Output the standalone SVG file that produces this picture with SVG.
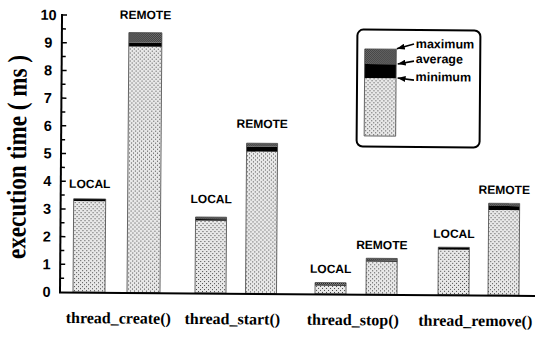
<svg xmlns="http://www.w3.org/2000/svg" width="537" height="338" viewBox="0 0 537 338">
  <style>
    .tick { stroke: #000; stroke-width: 1.5; }
    .num { font-family: "Liberation Sans", Arial, sans-serif; font-weight: bold; font-size: 14.5px; text-anchor: middle; fill: #000; }
    .tag { font-family: "Liberation Sans", Arial, sans-serif; font-weight: bold; font-size: 12px; text-anchor: middle; fill: #000; }
    .fn { font-family: "Liberation Serif", "Times New Roman", serif; font-weight: bold; font-size: 16px; text-anchor: middle; fill: #000; }
    .key { font-family: "Liberation Sans", Arial, sans-serif; font-weight: bold; font-size: 12.5px; fill: #000; }
    .min { fill: url(#stipple); }
    .avg { fill: #000; }
    .max { fill: url(#checker); }
    .edge { fill: none; stroke: #444; stroke-width: 0.8; }
    .ptr { stroke: #000; stroke-width: 1.6; fill: none; marker-end: url(#head); }
  </style>
  <defs>
    <!-- light stipple: range 0 .. minimum -->
    <pattern id="stipple" width="4" height="4" patternUnits="userSpaceOnUse">
      <rect width="4" height="4" fill="#e8e8e8"/>
      <rect x="0" y="0" width="1" height="1" fill="#444"/>
      <rect x="2" y="2" width="1" height="1" fill="#444"/>
    </pattern>
    <!-- dark checker: range average .. maximum -->
    <pattern id="checker" width="2" height="2" patternUnits="userSpaceOnUse">
      <rect width="2" height="2" fill="#9a9a9a"/>
      <rect x="0" y="0" width="1" height="1" fill="#111"/>
      <rect x="1" y="1" width="1" height="1" fill="#111"/>
    </pattern>
    <marker id="head" viewBox="0 0 8 6" refX="8" refY="3" markerWidth="8" markerHeight="6" markerUnits="userSpaceOnUse" orient="auto">
      <path d="M0,0 L8,3 L0,6 z" fill="#000"/>
    </marker>
  </defs>

  <rect width="537" height="338" fill="#fff"/>

  <g transform="rotate(0.42 60 292)">
    <!-- y axis -->
    <g id="y-axis">
      <line x1="60" y1="14" x2="60" y2="293" stroke="#000" stroke-width="2"/>
      <path class="tick" d="M60,15h5 M60,28.85h4 M60,42.7h5 M60,56.55h4 M60,70.4h5 M60,84.25h4 M60,98.1h5 M60,111.95h4 M60,125.8h5 M60,139.65h4 M60,153.5h5 M60,167.35h4 M60,181.2h5 M60,195.05h4 M60,208.9h5 M60,222.75h4 M60,236.6h5 M60,250.45h4 M60,264.3h5 M60,278.15h4"/>
      <text class="num" x="46.5" y="20">10</text>
      <text class="num" x="46.5" y="47.7">9</text>
      <text class="num" x="46.5" y="75.4">8</text>
      <text class="num" x="46.5" y="103.1">7</text>
      <text class="num" x="46.5" y="130.8">6</text>
      <text class="num" x="46.5" y="158.5">5</text>
      <text class="num" x="46.5" y="186.2">4</text>
      <text class="num" x="46.5" y="213.9">3</text>
      <text class="num" x="46.5" y="241.6">2</text>
      <text class="num" x="46.5" y="269.3">1</text>
      <text class="num" x="46.5" y="297">0</text>
      <text transform="translate(25,157.3) rotate(-90)" font-family="'Liberation Serif', 'Times New Roman', serif" font-weight="bold" font-size="27.5" text-anchor="middle" textLength="204" lengthAdjust="spacingAndGlyphs">execution time ( ms )</text>
    </g>

    <!-- bars: stipple = 0..min, black = min..avg, checker = avg..max -->
    <g id="create-local">
      <rect class="min" x="73" y="201" width="32" height="91"/>
      <rect class="avg" x="73" y="198.7" width="32" height="2.3"/>
      <rect class="edge" x="73" y="198.7" width="32" height="93.3"/>
      <text class="tag" x="89" y="187.8">LOCAL</text>
    </g>
    <g id="create-remote">
      <rect class="min" x="127" y="46.1" width="33" height="245.9"/>
      <rect class="avg" x="127" y="42.1" width="33" height="4"/>
      <rect class="max" x="127" y="32.1" width="33" height="10"/>
      <rect class="edge" x="127" y="32.1" width="33" height="259.9"/>
      <text class="tag" x="143.5" y="18.4">REMOTE</text>
    </g>
    <g id="start-local">
      <rect class="min" x="195" y="219.5" width="31" height="72.5"/>
      <rect class="avg" x="195" y="218" width="31" height="1.5"/>
      <rect class="max" x="195" y="216" width="31" height="2"/>
      <rect class="edge" x="195" y="216" width="31" height="76"/>
      <text class="tag" x="210.5" y="202">LOCAL</text>
    </g>
    <g id="start-remote">
      <rect class="min" x="245.5" y="150.2" width="31" height="141.8"/>
      <rect class="avg" x="245.5" y="145.2" width="31" height="5"/>
      <rect class="max" x="245.5" y="141.8" width="31" height="3.4"/>
      <rect class="edge" x="245.5" y="141.8" width="31" height="150.2"/>
      <text class="tag" x="261" y="126.5">REMOTE</text>
    </g>
    <g id="stop-local">
      <rect class="min" x="315" y="283.7" width="31" height="8.3"/>
      <rect class="avg" x="315" y="282.5" width="31" height="1.2"/>
      <rect class="max" x="315" y="280.7" width="31" height="1.8"/>
      <rect class="edge" x="315" y="280.7" width="31" height="11.3"/>
      <text class="tag" x="330.5" y="271">LOCAL</text>
    </g>
    <g id="stop-remote">
      <rect class="min" x="366" y="259.3" width="31" height="32.7"/>
      <rect class="avg" x="366" y="258" width="31" height="1.3"/>
      <rect class="max" x="366" y="256" width="31" height="2"/>
      <rect class="edge" x="366" y="256" width="31" height="36"/>
      <text class="tag" x="381.5" y="246.8">REMOTE</text>
    </g>
    <g id="remove-local">
      <rect class="min" x="438" y="246.8" width="31" height="45.2"/>
      <rect class="avg" x="438" y="244.4" width="31" height="2.4"/>
      <rect class="edge" x="438" y="244.4" width="31" height="47.6"/>
      <text class="tag" x="453.5" y="235">LOCAL</text>
    </g>
    <g id="remove-remote">
      <rect class="min" x="488" y="206.8" width="31" height="85.2"/>
      <rect class="avg" x="488" y="202.8" width="31" height="4"/>
      <rect class="max" x="488" y="200.1" width="31" height="2.7"/>
      <rect class="edge" x="488" y="200.1" width="31" height="91.9"/>
      <text class="tag" x="503.5" y="190.7">REMOTE</text>
    </g>

    <!-- x axis baseline -->
    <line x1="59" y1="292.5" x2="535" y2="292.5" stroke="#000" stroke-width="2"/>

    <!-- function names -->
    <g id="x-labels">
      <text class="fn" x="118.5" y="323">thread_create()</text>
      <text class="fn" x="232.5" y="323">thread_start()</text>
      <text class="fn" x="353" y="323">thread_stop()</text>
      <text class="fn" x="475.5" y="323">thread_remove()</text>
    </g>

    <!-- key -->
    <g id="legend">
      <rect x="355.5" y="27.4" width="123" height="117" rx="6" fill="#fff" stroke="#000" stroke-width="2"/>
      <rect class="min" x="363" y="75.7" width="31.5" height="58"/>
      <rect class="avg" x="363" y="61.7" width="31.5" height="14"/>
      <rect class="max" x="363" y="46.7" width="31.5" height="15"/>
      <rect class="edge" x="363" y="46.7" width="31.5" height="87"/>
    </g>
    <g id="legend-pointers">
      <line class="ptr" x1="412.2" y1="41.5" x2="395" y2="46.3"/>
      <line class="ptr" x1="412.3" y1="58.5" x2="396" y2="61.5"/>
      <line class="ptr" x1="412.4" y1="77.5" x2="396" y2="75.6"/>
    </g>
    <text class="key" x="414" y="45.5">maximum</text>
    <text class="key" x="414" y="60.5">average</text>
    <text class="key" x="414" y="78.5">minimum</text>
  </g>
</svg>
